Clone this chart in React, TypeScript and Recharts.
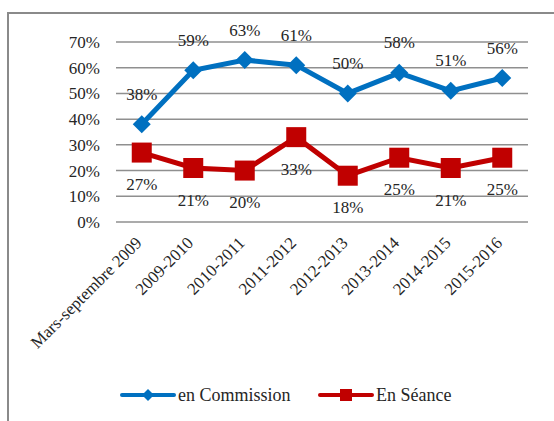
import { CartesianGrid, LabelList, Legend, Line, LineChart, XAxis, YAxis } from 'recharts';

const periods = [
  'Mars-septembre 2009',
  '2009-2010',
  '2010-2011',
  '2011-2012',
  '2012-2013',
  '2013-2014',
  '2014-2015',
  '2015-2016',
];
const commission = [0.38, 0.59, 0.63, 0.61, 0.5, 0.58, 0.51, 0.56];
const seance = [0.27, 0.21, 0.2, 0.33, 0.18, 0.25, 0.21, 0.25];
const yTicks = [0, 0.1, 0.2, 0.3, 0.4, 0.5, 0.6, 0.7];

const BLUE = '#0070C0';
const RED = '#C00000';
const FONT = 'Liberation Serif, Times New Roman, Tinos, DejaVu Serif, Noto Serif, serif';
const TEXT = '#262626';

const data = periods.map((p, i) => ({ period: p, commission: commission[i], seance: seance[i] }));

const pct = (v: number) => `${Math.round(v * 100)}%`;

const Diamond = ({ cx, cy }: any) => (
  <path d={`M${cx},${cy - 9} L${cx + 9},${cy} L${cx},${cy + 9} L${cx - 9},${cy} Z`} fill={BLUE} />
);

const Square = ({ cx, cy }: any) => (
  <rect x={cx - 10} y={cy - 10} width={20} height={20} fill={RED} />
);

const XTick = ({ x, y, payload }: any) => (
  <text
    x={x + 1}
    y={y + 14}
    transform={`rotate(-45, ${x + 1}, ${y + 14})`}
    textAnchor="end"
    style={{ fontFamily: FONT }}
    fontSize={17}
    fill={TEXT}
  >
    {payload.value}
  </text>
);

const makeLabel = (dy: number) => (props: any) => {
  const { x, y, value } = props;
  return (
    <text x={x} y={y + dy} textAnchor="middle" dominantBaseline="central" style={{ fontFamily: FONT }} fontSize={17} fill={TEXT}>
      {pct(value)}
    </text>
  );
};

const LegendContent = () => (
  <div style={{ position: 'relative', width: 554, height: 20, fontFamily: FONT, fontSize: 18, color: TEXT }}>
    <svg width={56} height={14} style={{ position: 'absolute', left: 120, top: 3 }}>
      <line x1={2} y1={7} x2={54} y2={7} stroke={BLUE} strokeWidth={4} strokeLinecap="round" />
      <path d="M28,1 L34,7 L28,13 L22,7 Z" fill={BLUE} />
    </svg>
    <span style={{ position: 'absolute', left: 178, top: 0, lineHeight: '20px', whiteSpace: 'nowrap' }}>en Commission</span>
    <svg width={56} height={14} style={{ position: 'absolute', left: 318, top: 3 }}>
      <line x1={2} y1={7} x2={54} y2={7} stroke={RED} strokeWidth={4} strokeLinecap="round" />
      <rect x={22} y={1} width={12} height={12} fill={RED} />
    </svg>
    <span style={{ position: 'absolute', left: 376, top: 0, lineHeight: '20px', whiteSpace: 'nowrap' }}>En Séance</span>
  </div>
);

export default function App() {
  return (
    <div style={{ position: 'absolute', left: 0, top: 0, width: 554, height: 421, background: '#fff', overflow: 'hidden', fontFamily: FONT }}>
      <div
        style={{
          position: 'absolute',
          left: 7,
          top: 12,
          width: 600,
          height: 500,
          border: '2px solid #8a8a8a',
        }}
      />
      <div style={{ position: 'absolute', left: 0, top: 0 }}>
        <LineChart width={554} height={421} data={data} margin={{ top: 42, right: 26, left: 0, bottom: 36 }}>
          <CartesianGrid vertical={false} stroke="#8f8f8f" strokeWidth={1.5} />
          <XAxis
            dataKey="period"
            axisLine={false}
            tickLine={false}
            height={163}
            interval={0}
            padding={{ left: 25.75, right: 25.75 }}
            tick={<XTick />}
          />
          <YAxis
            domain={[0, 0.7]}
            ticks={yTicks}
            width={116}
            axisLine={false}
            tickLine={false}
            tickMargin={10}
            tickFormatter={pct}
            tick={{ style: { fontFamily: FONT }, fontSize: 17, fill: TEXT }}
          />
          <Legend
            layout="horizontal"
            verticalAlign="middle"
            align="center"
            content={<LegendContent />}
            wrapperStyle={{ position: 'absolute', top: 385, left: 0, width: 554 }}
          />
          <Line
            dataKey="commission"
            stroke={BLUE}
            strokeWidth={5}
            dot={<Diamond />}
            activeDot={false}
            isAnimationActive={false}
          >
            <LabelList dataKey="commission" content={makeLabel(-30)} />
          </Line>
          <Line
            dataKey="seance"
            stroke={RED}
            strokeWidth={5}
            dot={<Square />}
            activeDot={false}
            isAnimationActive={false}
          >
            <LabelList dataKey="seance" content={makeLabel(32)} />
          </Line>
        </LineChart>
      </div>
    </div>
  );
}
